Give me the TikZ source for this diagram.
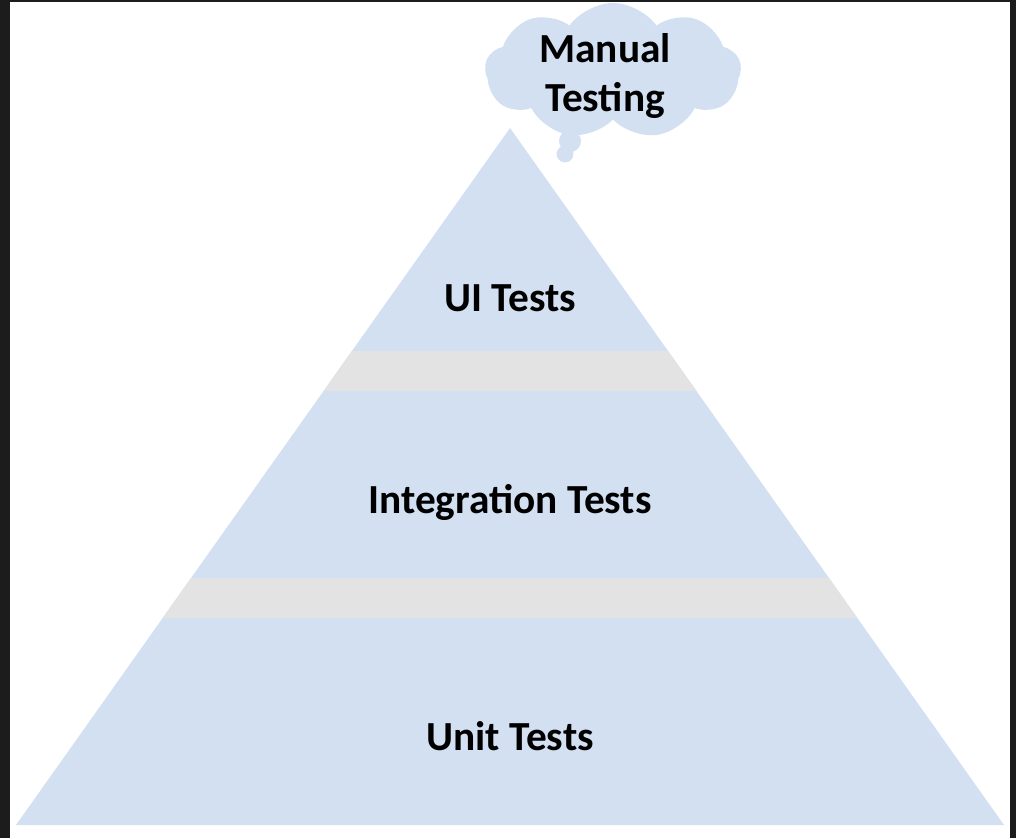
\documentclass[tikz,border=0pt]{standalone}
\usepackage{fontspec}
\setmainfont{Carlito}
\usetikzlibrary{shapes.symbols}

\definecolor{tierblue}{HTML}{D2E0F2}
\definecolor{bandgray}{HTML}{E3E3E3}
\definecolor{framedark}{HTML}{1C1C1C}

\tikzset{
  tierlabel/.style={font=\fontsize{29.4}{35}\selectfont\bfseries, inner sep=0pt},
  bubble/.style={circle, fill=tierblue, inner sep=0pt},
}

\begin{document}
\begin{tikzpicture}[x=0.025cm, y=-0.025cm]
    \useasboundingbox (0,0) rectangle (1016,838);
    \fill[white] (0,0) rectangle (1016,838);
    % dark frame of the screenshot
    \fill[framedark] (0,0) rectangle (10,838);
    \fill[framedark] (0,0) rectangle (1016,2);
    \fill[framedark] (1010,0) rectangle (1016,838);

    \coordinate (apex) at (510,128);
    \coordinate (bl) at (16,825);
    \coordinate (br) at (1004,825);
    \begin{scope}
      \clip (apex) -- (bl) -- (br) -- cycle;
      \fill[tierblue] (0,100) rectangle (1016,838);
      \fill[bandgray] (0,351) rectangle (1016,391);
      \fill[bandgray] (0,578) rectangle (1016,618);
    \end{scope}

    \node[tierlabel] at (510,298) (ui) {UI Tests};
    \node[tierlabel] at (510,502) (integ) {Integration Tests};
    \node[tierlabel] at (510,736) (unit) {Unit Tests};

    \node[cloud, cloud puffs=9, cloud puff arc=110, aspect=2, fill=tierblue, inner sep=0pt,
          minimum width=6.4cm, minimum height=3.4cm] at (613,71) (cloud) {};
    \node[tierlabel, align=center] at (605,76) (manual) {Manual\\Testing};
    \node[bubble, minimum size=0.55cm] at (570,141) (bub1) {};
    \node[bubble, minimum size=0.42cm] at (565,154) (bub2) {};
  \end{tikzpicture}
\end{document}
